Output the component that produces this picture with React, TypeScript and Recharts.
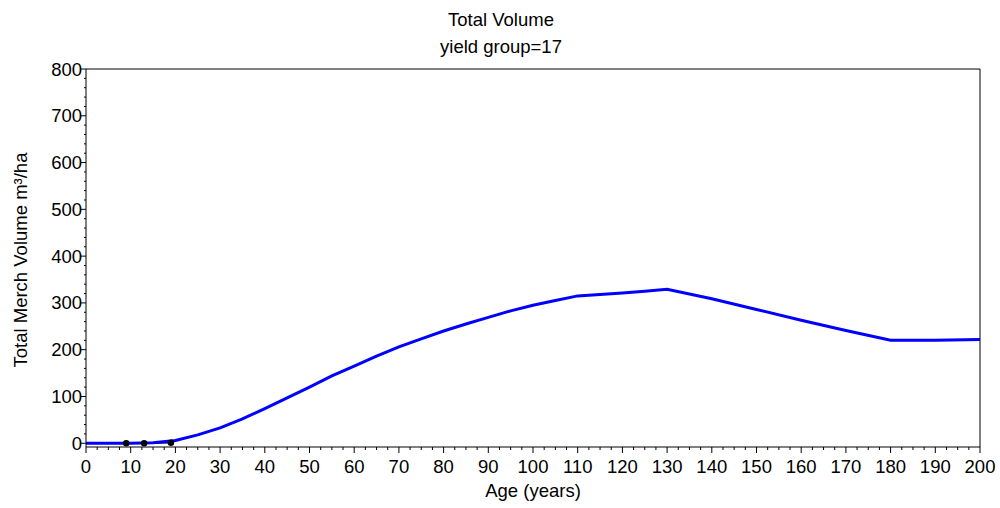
import React from 'react';
import { LineChart, Line, XAxis, YAxis, ReferenceLine } from 'recharts';

// Age (years) and total merch volume (m3/ha)
const ages = [0, 5, 10, 15, 20, 25, 30, 35, 40, 45, 50, 55, 60, 65, 70, 75, 80, 85, 90, 95, 100, 105, 110, 115, 120, 125, 130, 140, 150, 160, 170, 180, 190, 200];
const volumes = [0, 0, 0, 1, 6, 18, 33, 52, 74, 97, 120, 144, 165, 186, 206, 223, 240, 255, 269, 283, 295, 305, 315, 318, 321, 325, 329, 309, 286, 263, 241, 220, 220, 222];

// observed plot points (black markers)
const obsAges = [9, 13, 19];
const obsVolumes = [0, 0, 1];

const xMajor = [0, 10, 20, 30, 40, 50, 60, 70, 80, 90, 100, 110, 120, 130, 140, 150, 160, 170, 180, 190, 200];
const yMajor = [0, 100, 200, 300, 400, 500, 600, 700, 800];

const curve = ages.map((a, i) => ({ age: a, vol: volumes[i] }));
const obs = obsAges.map((a, i) => ({ age: a, obs: obsVolumes[i] }));

const xTicks: number[] = [];
for (let t = 0; t <= 200; t += 2.5) xTicks.push(t);
const yTicks: number[] = [];
for (let t = 0; t <= 800; t += 20) yTicks.push(t);

const FONT = '"Liberation Sans", Arial, sans-serif';
const FS = 18.5;

const XTick = (props: any) => {
  const { x, y, payload } = props;
  const major = xMajor.includes(payload.value);
  return (
    <g>
      <line x1={x} x2={x} y1={y} y2={y + (major ? 6 : 3)} stroke="#000" strokeWidth={1} />
      {major && (
        <text x={x} y={y + 13} dy="0.71em" textAnchor="middle" fontSize={FS} fontFamily={FONT} fill="#000">
          {payload.value}
        </text>
      )}
    </g>
  );
};

const YTick = (props: any) => {
  const { x, y, payload } = props;
  const major = yMajor.includes(payload.value);
  return (
    <g>
      <line x1={x - (major ? 5 : 2)} x2={x} y1={y} y2={y} stroke="#000" strokeWidth={1} />
      {major && (
        <text x={x - 4} y={y} dy="0.355em" textAnchor="end" fontSize={FS} fontFamily={FONT} fill="#000">
          {payload.value}
        </text>
      )}
    </g>
  );
};

const App: React.FC = () => {
  return (
    <div style={{ position: 'absolute', left: 0, top: 0, width: 1000, height: 508, background: '#fff' }}>
      <LineChart width={1000} height={508} margin={{ top: 69, right: 20, bottom: 0, left: 0 }}>
        <XAxis
          dataKey="age"
          type="number"
          domain={[0, 200]}
          ticks={xTicks}
          interval={0}
          tickLine={false}
          tickSize={0}
          tickMargin={0}
          tick={<XTick />}
          height={61}
          stroke="#000"
          allowDuplicatedCategory={false}
        />
        <YAxis
          type="number"
          domain={[-8, 800]}
          ticks={yTicks}
          interval={0}
          tickLine={false}
          tickSize={0}
          tickMargin={0}
          tick={<YTick />}
          width={86}
          stroke="#000"
          allowDataOverflow
        />
        <ReferenceLine y={800} stroke="#000" strokeWidth={1} ifOverflow="extendDomain" />
        <ReferenceLine x={200} stroke="#000" strokeWidth={1} />
        <Line
          data={obs}
          dataKey="obs"
          type="linear"
          stroke="#000"
          strokeWidth={1.5}
          dot={{ r: 2.5, fill: '#000', stroke: '#000' }}
          isAnimationActive={false}
        />
        <Line
          data={curve}
          dataKey="vol"
          type="linear"
          stroke="#0000ff"
          strokeWidth={3}
          dot={false}
          isAnimationActive={false}
        />
      </LineChart>
      <svg width={1000} height={508} style={{ position: 'absolute', left: 0, top: 0, pointerEvents: 'none' }}>
        <text x={501} y={26} textAnchor="middle" fontSize={FS} fontFamily={FONT} fill="#000">Total Volume</text>
        <text x={501} y={53} textAnchor="middle" fontSize={FS} fontFamily={FONT} fill="#000">yield group=17</text>
        <text x={533} y={497} textAnchor="middle" fontSize={FS} fontFamily={FONT} fill="#000">Age (years)</text>
        <text
          x={0}
          y={0}
          transform="translate(27, 260) rotate(-90)"
          textAnchor="middle"
          fontSize={FS}
          fontFamily={FONT}
          fill="#000"
        >
          Total Merch Volume m³/ha
        </text>
      </svg>
    </div>
  );
};

export default App;
